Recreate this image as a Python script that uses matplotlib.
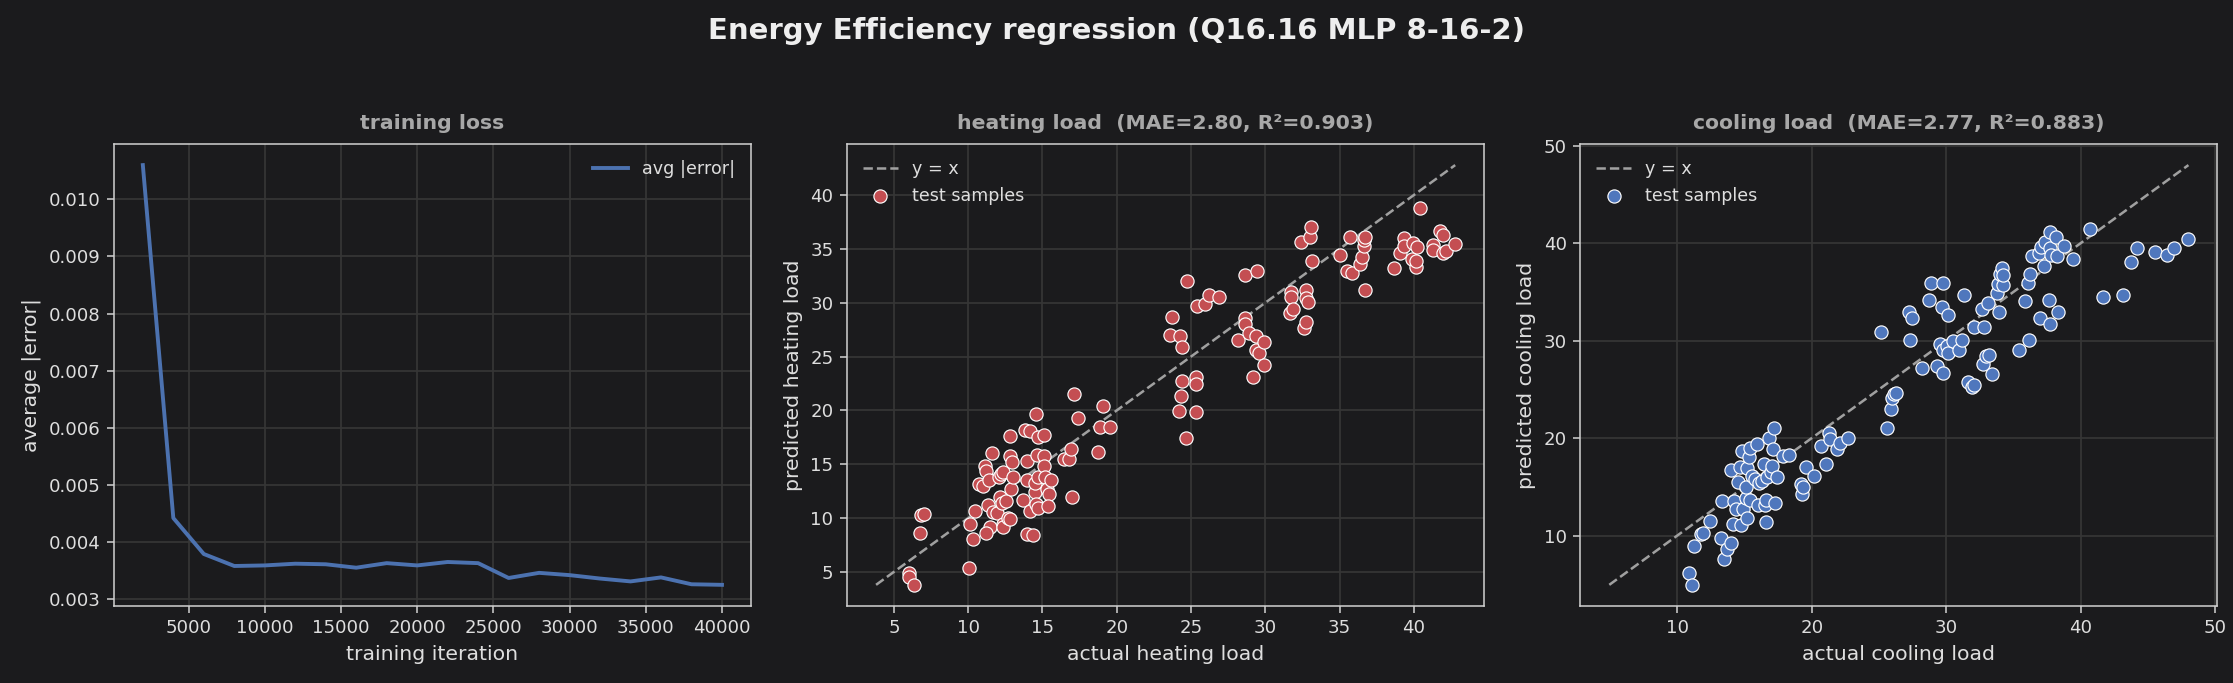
import numpy as np
import matplotlib
matplotlib.use("Agg")
import matplotlib.pyplot as plt

# ---- data ----
iters = [2000, 4000, 6000, 8000, 10000, 12000, 14000, 16000, 18000, 20000,
         22000, 24000, 26000, 28000, 30000, 32000, 34000, 36000, 38000, 40000]
avg_err = [0.01060, 0.00442, 0.00379, 0.00358, 0.00359, 0.00362, 0.00361,
           0.00355, 0.00363, 0.00359, 0.00365, 0.00363, 0.00337, 0.00346,
           0.00342, 0.00336, 0.00331, 0.00338, 0.00326, 0.00325]

heat_actual = [6.01, 6.01, 6.34, 6.80, 7.06, 6.73, 10.07, 10.14, 10.33, 10.43,
               10.76, 11.02, 11.12, 11.18, 11.31, 11.44, 11.22, 11.38, 11.58, 11.64,
               11.94, 12.10, 12.13, 12.23, 12.29, 12.33, 12.36, 12.36, 12.52, 12.69,
               12.79, 12.82, 12.79, 12.85, 12.92, 13.01, 13.70, 13.83, 13.99, 13.99,
               13.93, 14.16, 14.16, 14.39, 14.49, 14.49, 14.55, 14.58, 14.62, 14.68,
               14.72, 14.72, 15.11, 15.11, 15.11, 15.14, 15.30, 15.47, 15.40, 15.57,
               16.45, 16.78, 16.91, 17.01, 17.14, 17.37, 18.74, 18.90, 19.10, 19.52,
               23.61, 23.74, 24.20, 24.23, 24.30, 24.37, 24.40, 24.63, 24.76, 25.35,
               25.35, 25.35, 25.41, 25.97, 26.20, 26.85, 28.16, 28.62, 28.62, 28.62,
               28.88, 29.14, 29.40, 29.47, 29.37, 29.60, 29.89, 29.89, 31.66, 31.73,
               31.73, 31.86, 32.38, 32.58, 32.71, 32.71, 32.74, 32.87, 33.03, 33.07,
               33.13, 35.03, 35.52, 35.68, 35.84, 36.40, 36.50, 36.63, 36.67, 36.70,
               36.70, 38.69, 39.08, 39.35, 39.35, 39.84, 39.94, 40.11, 40.17, 40.23,
               40.40, 41.31, 41.31, 41.74, 41.96, 41.96, 42.13, 42.78]
heat_pred = [4.93, 4.55, 3.80, 10.26, 10.40, 8.61, 5.38, 9.44, 8.06, 10.68,
             13.19, 13.02, 14.84, 14.36, 11.19, 9.13, 8.61, 13.57, 16.01, 10.57,
             10.51, 13.77, 11.95, 14.12, 11.37, 9.47, 9.13, 14.29, 11.54, 10.02,
             15.74, 17.63, 9.92, 12.74, 15.25, 13.77, 11.71, 18.18, 15.32, 13.53,
             8.54, 18.08, 10.68, 8.44, 12.40, 13.26, 11.30, 19.69, 15.84, 17.56,
             10.92, 13.77, 17.73, 15.74, 14.81, 13.77, 12.74, 12.23, 11.13, 13.50,
             15.50, 15.50, 16.46, 11.99, 21.52, 19.32, 16.18, 18.42, 20.42, 18.49,
             27.02, 28.68, 19.93, 26.95, 21.35, 25.89, 22.72, 17.39, 32.01, 23.07,
             22.48, 19.87, 29.71, 29.88, 30.74, 30.53, 26.54, 32.53, 28.57, 28.06,
             27.20, 23.13, 26.92, 32.94, 25.58, 25.37, 26.34, 24.24, 29.09, 30.98,
             30.53, 29.43, 35.63, 27.64, 31.15, 30.46, 28.23, 30.05, 36.07, 37.07,
             33.84, 34.46, 32.94, 36.11, 32.80, 33.56, 34.25, 35.28, 35.80, 36.14,
             31.15, 33.22, 34.59, 35.97, 35.28, 34.08, 35.56, 33.29, 33.91, 35.18,
             38.79, 35.35, 34.94, 36.66, 36.25, 34.59, 34.83, 35.45]

cool_actual = [10.90, 11.07, 11.25, 11.75, 11.93, 12.40, 13.22, 13.29, 13.47, 13.72,
               14.01, 14.01, 14.12, 14.19, 14.37, 14.51, 14.65, 14.73, 14.83, 14.91,
               15.08, 15.12, 15.19, 15.19, 15.33, 15.37, 15.44, 15.55, 15.80, 15.91,
               15.98, 16.09, 16.27, 16.44, 16.52, 16.59, 16.62, 16.70, 16.80, 16.98,
               17.05, 17.09, 17.16, 17.23, 17.45, 17.84, 18.31, 19.20, 19.27, 19.34,
               19.60, 20.17, 20.71, 21.03, 21.32, 21.39, 21.89, 22.10, 22.67,
               25.15, 25.57, 25.93, 25.97, 26.15, 26.25, 27.26, 27.33, 27.47, 28.22,
               28.69, 28.90, 29.33, 29.51, 29.69, 29.73, 29.76, 29.76, 30.05, 30.12,
               30.16, 30.48, 30.95, 31.20, 31.30, 31.66, 31.91, 32.05, 32.09, 32.70,
               32.77, 32.84, 32.99, 33.16, 33.13, 33.42, 33.77, 33.88, 33.95, 33.99,
               34.13, 34.20, 34.24, 35.42, 35.85, 36.10, 36.17, 36.21, 36.39, 36.92,
               37.00, 37.03, 37.28, 37.35, 37.64, 37.71, 37.71, 37.71, 37.82, 38.17,
               38.28, 38.35, 38.78, 39.43, 40.68, 41.69, 43.12, 43.73, 44.16, 45.52,
               46.41, 46.95, 48.02]
cool_pred = [6.20, 4.94, 8.94, 10.15, 10.27, 11.48, 9.77, 13.57, 7.57, 8.63,
             9.24, 16.69, 11.22, 13.50, 12.74, 15.51, 17.00, 11.03, 18.63, 12.74,
             13.88, 15.02, 16.92, 11.79, 18.06, 19.01, 13.69, 16.16, 15.78, 19.39,
             13.12, 15.40, 15.59, 17.30, 13.12, 13.69, 11.37, 15.97, 20.04, 16.54,
             17.11, 18.90, 21.03, 13.31, 15.97, 18.14, 18.25, 15.32, 14.26, 15.02,
             17.03, 16.16, 19.20, 17.30, 20.53, 19.89, 18.90, 19.51, 20.04,
             30.91, 21.03, 23.00, 24.14, 24.52, 24.68, 32.97, 30.04, 32.32, 27.19,
             34.22, 35.93, 27.38, 29.66, 33.46, 26.73, 35.93, 29.09, 29.47, 28.71,
             32.62, 29.92, 29.09, 30.04, 34.71, 25.74, 25.29, 25.48, 31.37, 33.27,
             27.57, 31.37, 28.40, 28.52, 33.84, 26.54, 34.87, 35.86, 32.97, 36.88,
             37.45, 35.72, 36.69, 29.09, 34.11, 35.93, 30.04, 36.81, 38.71, 38.97,
             32.32, 39.62, 37.64, 40.11, 34.22, 31.75, 41.14, 39.54, 38.78, 40.68,
             38.67, 32.97, 39.73, 38.40, 41.44, 34.49, 34.68, 38.10, 39.51, 39.13,
             38.75, 39.54, 40.42]

panels = [
    ("heating load  (MAE=2.80, R\u00b2=0.903)", heat_actual, heat_pred,
     "#c44e52", "actual heating load", "predicted heating load"),
    ("cooling load  (MAE=2.77, R\u00b2=0.883)", cool_actual, cool_pred,
     "#4f77bd", "actual cooling load", "predicted cooling load"),
]

BG = "#1b1b1d"
FG = "#dedede"
plt.rcParams.update({
    "font.family": "DejaVu Sans",
    "figure.facecolor": BG, "axes.facecolor": BG, "savefig.facecolor": BG,
    "axes.edgecolor": "#cfcfcf", "axes.labelcolor": FG,
    "xtick.color": "#cfcfcf", "ytick.color": "#cfcfcf",
    "xtick.labelcolor": FG, "ytick.labelcolor": FG,
    "xtick.labelsize": 9.3, "ytick.labelsize": 9.3, "axes.labelsize": 10.5,
    "grid.color": "#363636", "grid.linewidth": 0.9,
    "legend.fontsize": 9, "legend.frameon": False, "legend.labelcolor": FG,
})

fig, axes = plt.subplots(1, 3, figsize=(2233 / 140, 683 / 140), dpi=140)
fig.subplots_adjust(left=0.051, right=0.993, bottom=0.113, top=0.789, wspace=0.151)

ax = axes[0]
ax.plot(iters, avg_err, color="#4c72b0", lw=2, label="avg |error|")
ax.set_title("training loss", color="#a8a8a8", fontweight="bold", fontsize=10.5, pad=8)
ax.set_xlabel("training iteration")
ax.set_ylabel("average |error|")
ax.grid(True)
ax.set_axisbelow(True)
ax.legend(loc="upper right")

for ax, (title, act, pred, col, xl, yl) in zip(axes[1:], panels):
    act = np.array(act)
    pred = np.array(pred)
    lo = min(act.min(), pred.min())
    hi = max(act.max(), pred.max())
    ax.plot([lo, hi], [lo, hi], ls="--", color="#a0a0a0", lw=1.3, label="y = x")
    ax.scatter(act, pred, s=46, color=col, edgecolor="white", linewidth=0.6,
               label="test samples", zorder=3)
    ax.set_title(title, color="#a8a8a8", fontweight="bold", fontsize=10.5, pad=8)
    ax.set_xlabel(xl)
    ax.set_ylabel(yl)
    ax.grid(True)
    ax.set_axisbelow(True)
    ax.legend(loc="upper left")

fig.suptitle("Energy Efficiency regression (Q16.16 MLP 8-16-2)",
             color="#eeeeee", fontweight="bold", fontsize=15, y=0.975)

fig.savefig("out.png", dpi=140)
